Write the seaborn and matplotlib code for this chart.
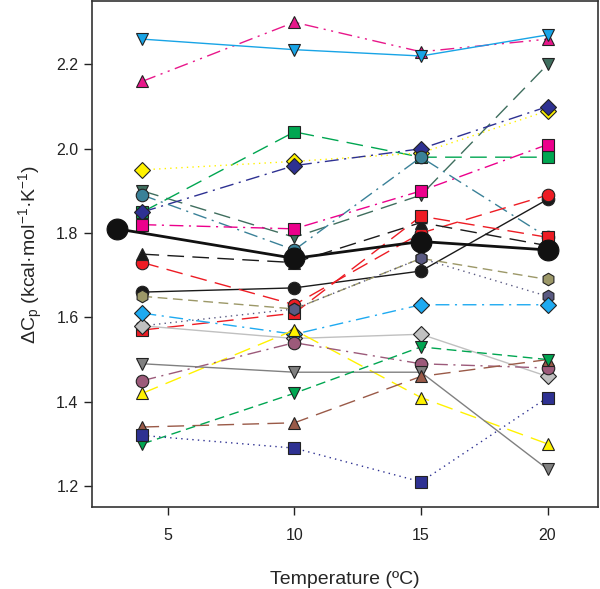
import matplotlib
matplotlib.use("Agg")
import matplotlib.pyplot as plt
import seaborn as sns

sns.set_style("ticks")
plt.rcParams['font.family'] = ['Liberation Sans', 'DejaVu Sans']
plt.rcParams['mathtext.fontset'] = 'custom'
plt.rcParams['mathtext.rm'] = 'Liberation Sans'
plt.rcParams['mathtext.it'] = 'Liberation Sans:italic'

# temperatures of the measurements
temps = [4, 10, 15, 20]
# mean curve (big black circles)
mean_temps = [3, 10, 15, 20]
mean_vals = [1.81, 1.74, 1.78, 1.76]

# one list per protein
slate_tri = [1.90, 1.79, 1.89, 2.20]
cyan_tri = [2.26, 2.235, 2.22, 2.27]
pink_tri = [2.16, 2.30, 2.23, 2.26]
green_sq = [1.85, 2.04, 1.98, 1.98]
yellow_dia = [1.95, 1.97, 1.99, 2.09]
blue_dia = [1.85, 1.96, 2.00, 2.10]
teal_circ = [1.89, 1.76, 1.98, 1.79]
pink_sq = [1.82, 1.81, 1.90, 2.01]
black_tri = [1.75, 1.73, 1.825, 1.77]
black_circ = [1.66, 1.67, 1.71, 1.88]
red_circ = [1.73, 1.63, 1.80, 1.89]
red_sq = [1.57, 1.61, 1.84, 1.79]
olive_hex = [1.65, 1.62, 1.74, 1.69]
purple_hex = [1.58, 1.62, 1.74, 1.65]
cyan_dia = [1.61, 1.56, 1.63, 1.63]
grey_dia = [1.58, 1.55, 1.56, 1.46]
yellow_tri = [1.42, 1.57, 1.41, 1.30]
mauve_circ = [1.45, 1.54, 1.49, 1.48]
grey_tri = [1.49, 1.47, 1.47, 1.24]
green_tri = [1.30, 1.42, 1.53, 1.50]
brown_tri = [1.34, 1.35, 1.46, 1.50]
blue_sq = [1.32, 1.29, 1.21, 1.41]

solid = '-'
longdash = (0, (12, 6))
dashed = (0, (7, 4))
dashdot = (0, (10, 4, 1.5, 4))
dashdotdot = (0, (10, 4, 1.5, 4, 1.5, 4))
dotted = (0, (1, 3))

series = [
    (slate_tri, '#3f6e5e', 'v', longdash),
    (pink_tri, '#e8178a', '^', dashdotdot),
    (cyan_tri, '#18a4e6', 'v', solid),
    (green_sq, '#00a651', 's', longdash),
    (yellow_dia, '#fff200', 'D', dotted),
    (blue_dia, '#2e3192', 'D', dashdot),
    (teal_circ, '#3a8198', 'o', dashdot),
    (pink_sq, '#ec008c', 's', dashdot),
    (black_circ, '#1a1a1a', 'o', solid),
    (red_circ, '#ed1c24', 'o', longdash),
    (black_tri, '#1a1a1a', '^', longdash),
    (red_sq, '#ed1c24', 's', longdash),
    (olive_hex, '#9c9868', 'h', dashed),
    (purple_hex, '#5a5a82', 'h', dotted),
    (grey_dia, '#c0c0c0', 'D', solid),
    (cyan_dia, '#1eaaf1', 'D', dashdot),
    (yellow_tri, '#fff200', '^', longdash),
    (mauve_circ, '#9c5a7a', 'o', dashdot),
    (grey_tri, '#808080', 'v', solid),
    (brown_tri, '#9a5a48', '^', longdash),
    (green_tri, '#00a651', 'v', dashed),
    (blue_sq, '#2e3192', 's', dotted),
]

fig = plt.figure(figsize=(6, 5.89), dpi=100)
ax = fig.add_axes([0.153, 0.139, 0.844, 0.859])

for vals, col, mk, ls in series:
    ms = 8 if mk in ('D', 's') else 9
    sns.lineplot(x=temps, y=vals, ax=ax, color=col, marker=mk, linestyle=ls,
                 lw=1.0, ms=ms, mec='#222222', mew=0.8)

sns.lineplot(x=mean_temps, y=mean_vals, ax=ax, color='#111111', marker='o',
             linestyle='-', lw=2.0, ms=15, mec='#111111', mew=0.8)

ax.set_xlim(2, 22)
ax.set_ylim(1.15, 2.35)
ax.set_xticks([5, 10, 15, 20])
ax.set_yticks([1.2, 1.4, 1.6, 1.8, 2.0, 2.2])
ax.tick_params(direction='out', length=6, width=1, labelsize=11.5, colors='#222222')
ax.tick_params(axis='x', pad=9)
for sp in ax.spines.values():
    sp.set_color('#333333')
    sp.set_linewidth(1.2)

ax.set_xlabel('Temperature (ºC)', fontsize=14, labelpad=20)
ax.set_ylabel(r'$\Delta$C$_\mathrm{p}$ (kcal·mol$^{-1}$·K$^{-1}$)', fontsize=14, labelpad=8)

fig.savefig('out.png', dpi=100)
